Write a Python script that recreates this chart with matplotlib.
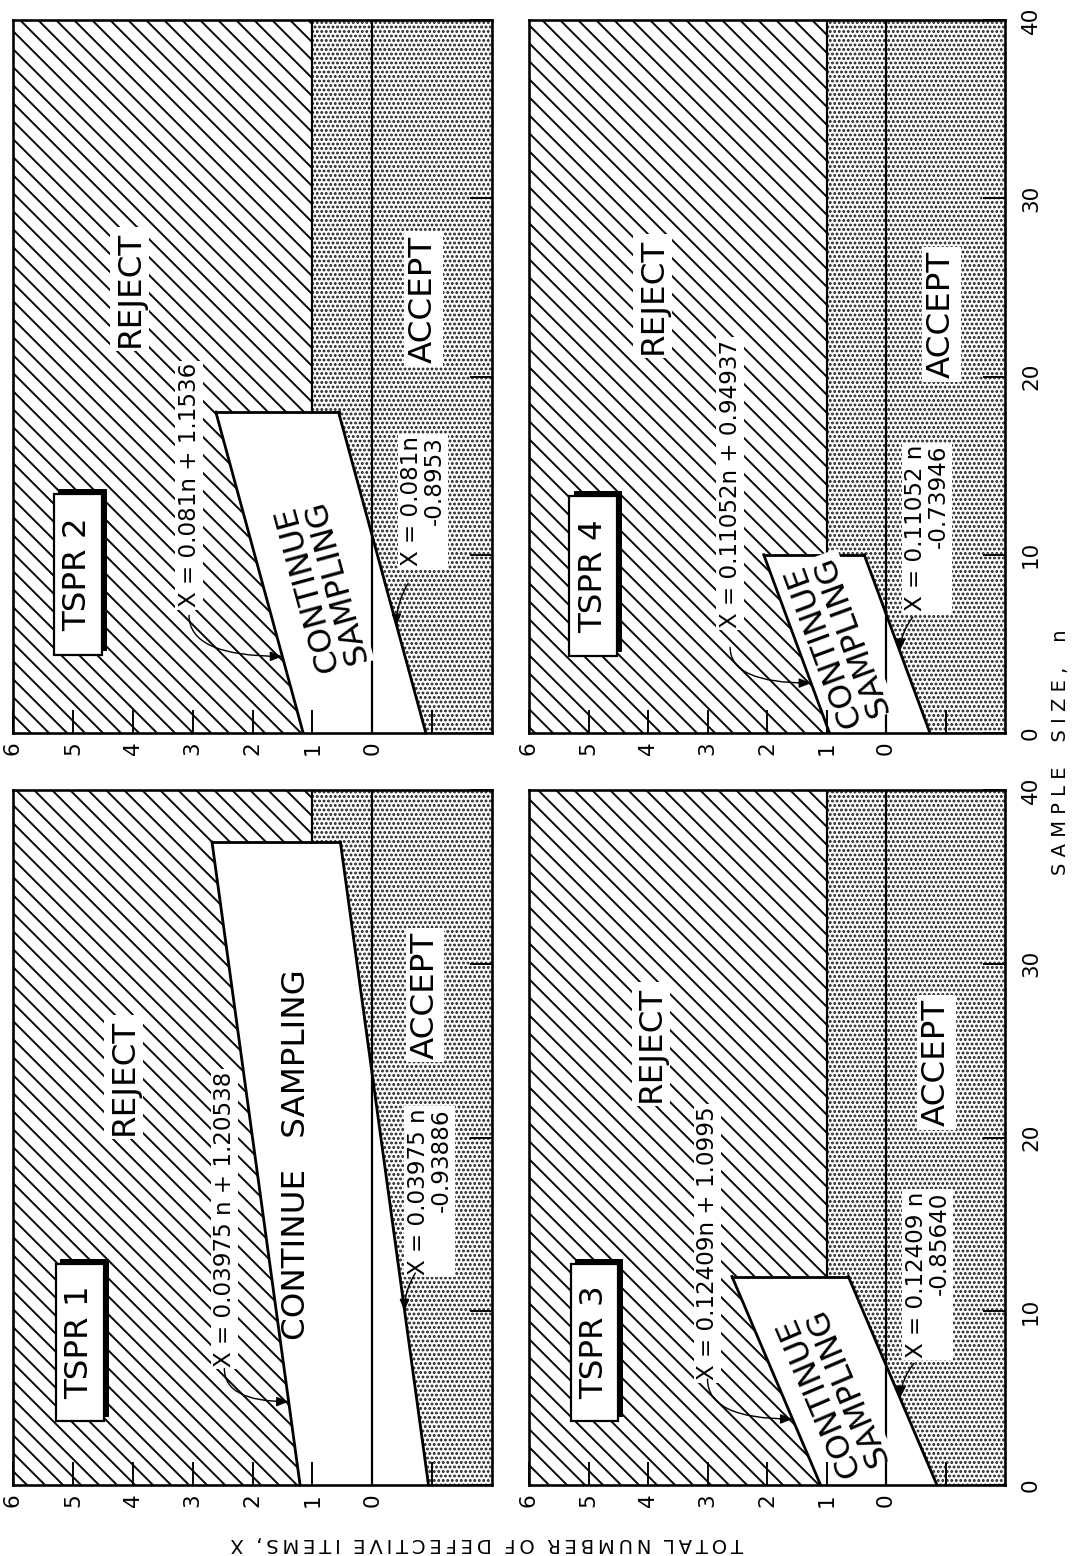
import matplotlib
matplotlib.use("Agg")
import matplotlib.pyplot as plt
from matplotlib.patches import Polygon, Rectangle
import numpy as np

W, H, DPI = 1077, 1556, 108
PT = 72.0 / DPI          # points per output pixel


def px(v):
    """Convert a size given in output pixels to points."""
    return v * PT


plt.rcParams['font.family'] = ['DejaVu Sans']
plt.rcParams['hatch.linewidth'] = px(1.9)

# ---- sequential test plans -------------------------------------------------
plan_names = ["TSPR 1", "TSPR 2", "TSPR 3", "TSPR 4"]
slopes = [0.03975, 0.081, 0.12409, 0.11052]
reject_intercepts = [1.20538, 1.1536, 1.0995, 0.94937]
accept_intercepts = [-0.93886, -0.8953, -0.85640, -0.73946]
truncation_n = [37, 18, 12, 10]
truncation_x = 1.0

reject_labels = ["X = 0.03975 n + 1.20538", "X = 0.081n + 1.1536",
                 "X = 0.12409n + 1.0995", "X = 0.11052n + 0.94937"]
accept_labels = ["X = 0.03975 n\n-0.93886", "X = 0.081n\n-0.8953",
                 "X = 0.12409 n\n-0.85640", "X = 0.11052 n\n-0.73946"]
continue_labels = ["CONTINUE   SAMPLING", "CONTINUE\nSAMPLING",
                   "CONTINUE\nSAMPLING", "CONTINUE\nSAMPLING"]

x_ticks = [6, 5, 4, 3, 2, 1, 0, -1]
x_tick_labels = ["6", "5", "4", "3", "2", "1", "0", ""]
n_ticks = [0, 10, 20, 30, 40]
n_tick_labels = ["0", "10", "20", "30", "40"]
x_limits = (6, -2)
n_limits = (0, 40)

y_title = "TOTAL NUMBER OF DEFECTIVE ITEMS, X"
x_title = "SAMPLE SIZE, n"

# ---- page geometry (pixels) -------------------------------------------------
fig = plt.figure(figsize=(W / DPI, H / DPI), dpi=DPI)
fig.patch.set_facecolor("white")

cols = [(13, 492), (529, 1005)]
rows = [(20, 733), (790, 1485)]
grid = {"TSPR 2": (0, 0), "TSPR 4": (0, 1), "TSPR 1": (1, 0), "TSPR 3": (1, 1)}

# annotation placement, in (X, n) data units
layout = {
    "TSPR 1": dict(box=(4.88, 8.2), reject=(4.15, 23.5), accept=(-0.88, 28.2),
                   cont=(1.26, 19.0), tilt=False,
                   upper_eq=(2.47, 15.3), lower_eq=(-0.96, 16.9),
                   upper_arrow=((2.47, 6.7), 4.8), lower_arrow=((-0.72, 12.2), 10.0)),
    "TSPR 2": dict(box=(4.92, 8.9), reject=(4.05, 24.9), accept=(-0.86, 24.3),
                   cont=(0.84, 8.3), tilt=True,
                   upper_eq=(3.06, 13.9), lower_eq=(-0.85, 13.0),
                   upper_arrow=((3.06, 6.6), 4.3), lower_arrow=((-0.6, 8.4), 6.0)),
    "TSPR 3": dict(box=(4.9, 8.2), reject=(3.95, 25.4), accept=(-0.85, 24.3),
                   cont=(0.89, 5.4), tilt=True,
                   upper_eq=(3.0, 13.9), lower_eq=(-0.7, 12.1),
                   upper_arrow=((3.0, 6.1), 3.8), lower_arrow=((-0.47, 7.0), 5.0)),
    "TSPR 4": dict(box=(4.92, 8.8), reject=(3.92, 24.5), accept=(-0.93, 23.5),
                   cont=(0.81, 5.2), tilt=True,
                   upper_eq=(2.62, 14.0), lower_eq=(-0.69, 11.5),
                   upper_arrow=((2.62, 4.8), 2.8), lower_arrow=((-0.45, 6.5), 4.6)),
}

BIG = px(32.5)   # region captions
EQ = px(23)      # boundary equations
TICK = px(21.5)
TITLE = px(19.5)


def set_hatch_lw(patch, lw):
    if hasattr(patch, "set_hatch_linewidth"):
        patch.set_hatch_linewidth(lw)


for i, name in enumerate(plan_names):
    row, col = grid[name]
    x0, x1 = cols[col]
    y0, y1 = rows[row]
    ax = fig.add_axes([x0 / W, 1 - y1 / H, (x1 - x0) / W, (y1 - y0) / H])
    ax.set_xlim(*x_limits)
    ax.set_ylim(*n_limits)
    lay = layout[name]

    a = slopes[i]
    bu = reject_intercepts[i]
    bl = accept_intercepts[i]
    ne = truncation_n[i]
    xu_end = a * ne + bu
    xl_end = a * ne + bl
    xl, xr = x_limits
    nb, nt = n_limits

    reject = Polygon([(xl, nb), (bu, nb), (xu_end, ne), (truncation_x, ne),
                      (truncation_x, nt), (xl, nt)], closed=True,
                     facecolor="white", edgecolor="black", linewidth=0,
                     hatch="\\\\", zorder=1)
    set_hatch_lw(reject, px(1.9))
    ax.add_patch(reject)

    accept = Polygon([(bl, nb), (xl_end, ne), (truncation_x, ne),
                      (truncation_x, nt), (xr, nt), (xr, nb)], closed=True,
                     facecolor="white", edgecolor="#151515", linewidth=0,
                     hatch="....", zorder=1)
    set_hatch_lw(accept, px(1.9))
    ax.add_patch(accept)

    # decision boundaries
    n_seg = np.array([nb, ne])
    blw = px(2.8)
    ax.plot(a * n_seg + bu, n_seg, color="black", lw=blw, zorder=3,
            solid_capstyle="projecting")
    ax.plot(a * n_seg + bl, n_seg, color="black", lw=blw, zorder=3,
            solid_capstyle="projecting")
    ax.plot([xu_end, xl_end], [ne, ne], color="black", lw=blw, zorder=3,
            solid_capstyle="projecting")
    ax.plot([truncation_x, truncation_x], [ne, nt], color="black", lw=px(2.2), zorder=3)
    ax.plot([0, 0], [nb, nt], color="black", lw=px(2.2), zorder=3)

    # plan name box with drop shadow
    bx, bn = lay["box"]
    bw, bh = 0.8, 9.0
    ax.add_patch(Rectangle((bx - bw / 2 - 0.07, bn - bh / 2 + 0.28), bw, bh,
                           facecolor="black", edgecolor="black", lw=px(1), zorder=6))
    ax.add_patch(Rectangle((bx - bw / 2, bn - bh / 2), bw, bh,
                           facecolor="white", edgecolor="black", lw=px(2.2), zorder=7))
    ax.text(bx, bn, name, rotation=90, rotation_mode="anchor", ha="center",
            va="center", fontsize=BIG, zorder=8)

    # region captions
    ax.text(*lay["reject"], "REJECT", rotation=90, rotation_mode="anchor",
            ha="center", va="center", fontsize=BIG, zorder=8,
            bbox=dict(boxstyle="square,pad=0.12", fc="white", ec="none"))
    ax.text(*lay["accept"], "ACCEPT", rotation=90, rotation_mode="anchor",
            ha="center", va="center", fontsize=BIG, zorder=8,
            bbox=dict(boxstyle="square,pad=0.12", fc="white", ec="none"))

    if lay["tilt"]:
        ang = np.degrees(np.arctan2(1.0, a))
        ax.text(*lay["cont"], continue_labels[i], rotation=ang,
                transform_rotates_text=True, rotation_mode="anchor",
                ha="center", va="center", fontsize=BIG, linespacing=0.95,
                zorder=8, bbox=dict(boxstyle="square,pad=0.02", fc="white", ec="none"))
    else:
        ax.text(*lay["cont"], continue_labels[i], rotation=90,
                rotation_mode="anchor", ha="center", va="center",
                fontsize=BIG, zorder=8)

    # boundary equations
    ax.text(*lay["upper_eq"], reject_labels[i], rotation=90, rotation_mode="anchor",
            ha="center", va="center", fontsize=EQ, zorder=8,
            bbox=dict(boxstyle="square,pad=0.1", fc="white", ec="none"))
    ax.text(*lay["lower_eq"], accept_labels[i], rotation=90, rotation_mode="anchor",
            ha="center", va="center", fontsize=EQ, multialignment="right",
            linespacing=1.0, zorder=8,
            bbox=dict(boxstyle="square,pad=0.1", fc="white", ec="none"))

    arrow_kw = dict(arrowstyle="-|>,head_length=0.5,head_width=0.2",
                    color="black", lw=px(1.4), shrinkA=0, shrinkB=0,
                    mutation_scale=px(20))
    (sx, sn), tip_n = lay["upper_arrow"]
    ax.annotate("", xy=(a * tip_n + bu, tip_n), xytext=(sx, sn),
                arrowprops=dict(connectionstyle="angle3,angleA=90,angleB=0",
                                **arrow_kw), zorder=9)
    (sx, sn), tip_n = lay["lower_arrow"]
    ax.annotate("", xy=(a * tip_n + bl, tip_n), xytext=(sx, sn),
                arrowprops=dict(connectionstyle="arc3,rad=0.15", **arrow_kw),
                zorder=9)

    # axes frame and ticks
    for sp in ax.spines.values():
        sp.set_linewidth(px(2.6))
        sp.set_zorder(10)
    ax.set_xticks(x_ticks)
    ax.set_xticklabels(x_tick_labels, rotation=90, fontsize=TICK)
    ax.tick_params(axis="x", direction="in", length=px(23), width=px(1.9),
                   pad=px(8), bottom=True, top=False)
    ax.set_yticks(n_ticks)
    ax.set_yticklabels(n_tick_labels, rotation=90, fontsize=TICK, va="center")
    ax.tick_params(axis="y", direction="in", length=px(22), width=px(1.9),
                   pad=px(16), left=False, right=True, labelleft=False,
                   labelright=(col == 1))
    ax.set_axisbelow(False)


def spaced(text, gap, word_gap):
    words = text.split(" ")
    return word_gap.join(gap.join(w) for w in words)


fig.text(487 / W, 1 - 1544 / H, spaced(y_title, "\u2009", "  "), rotation=180,
         ha="center", va="center", fontsize=TITLE)
fig.text(1061 / W, 1 - 752 / H, spaced(x_title, " ", "    "), rotation=90,
         ha="center", va="center", fontsize=TITLE)

fig.savefig("out.png", dpi=DPI, facecolor="white")
